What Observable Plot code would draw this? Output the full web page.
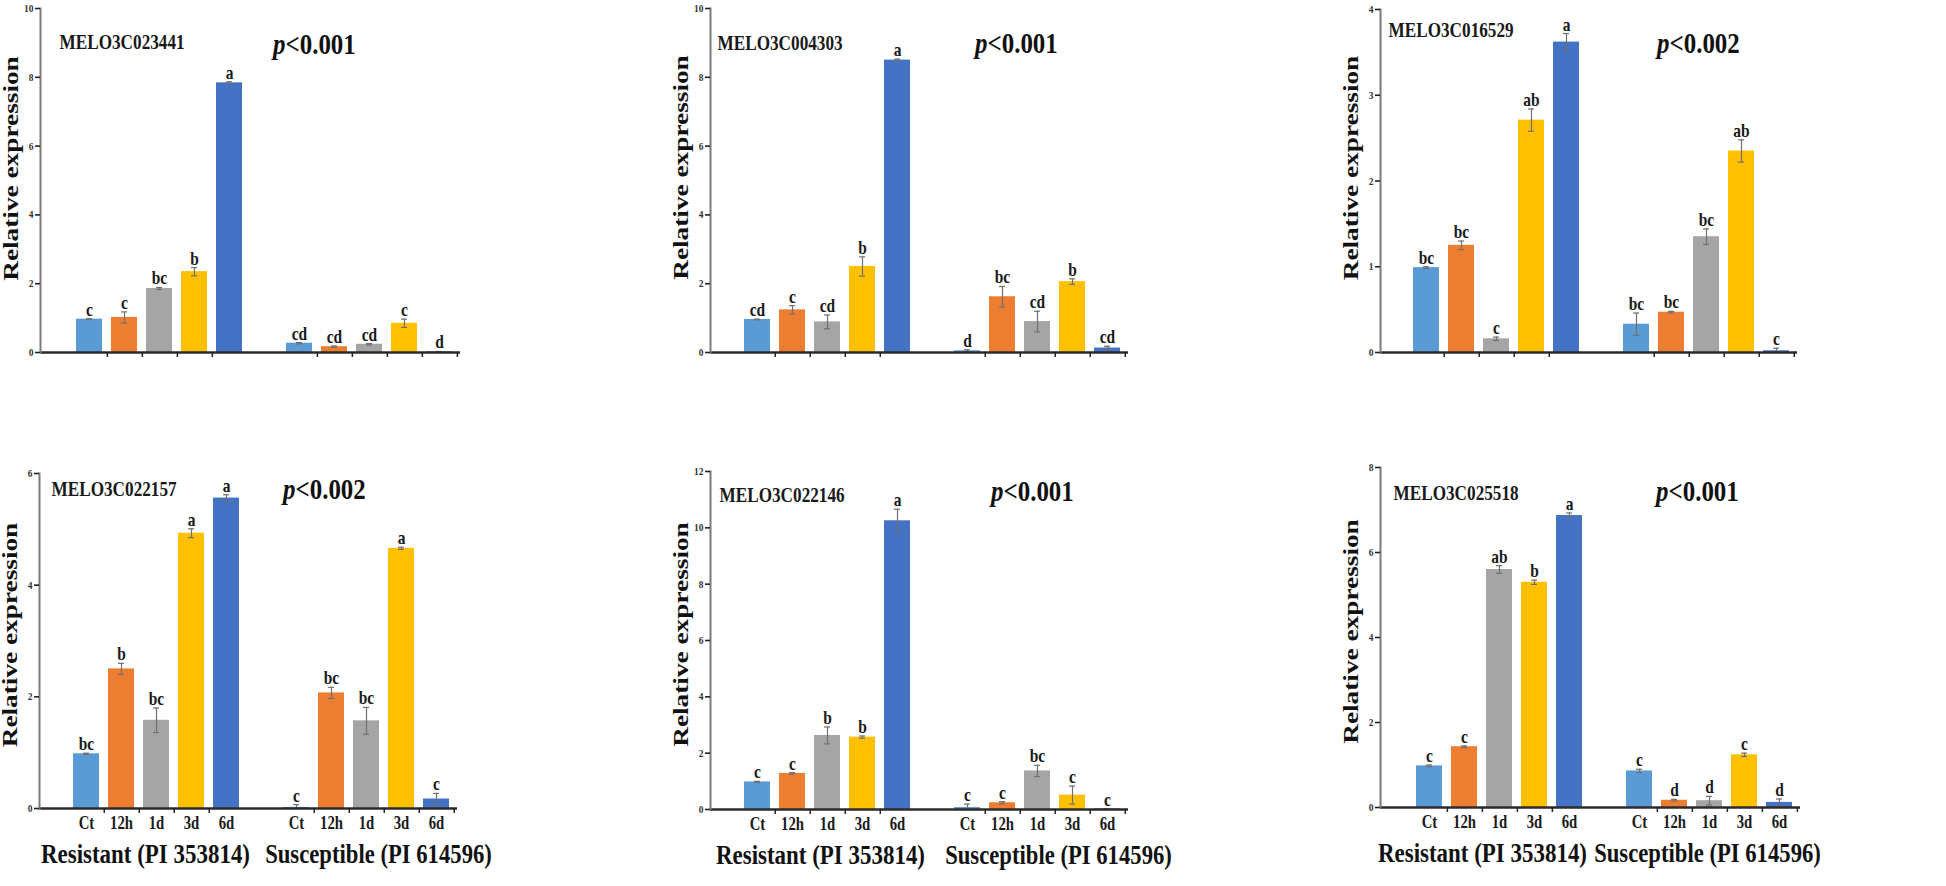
<!DOCTYPE html>
<html>
<head>
<meta charset="utf-8">
<script src="https://cdn.jsdelivr.net/npm/d3@7"></script>
<script src="https://cdn.jsdelivr.net/npm/@observablehq/plot@0.6"></script>
<style>
html, body { margin: 0; padding: 0; background: #fff; }
#root { position: relative; width: 1946px; height: 886px; overflow: hidden; background: #fff; }
.panel { position: absolute; }
</style>
</head>
<body>
<div id="root"></div>
<script>
// ---------- data ----------
const groups = ["Resistant (PI 353814)", "Susceptible (PI 614596)"];
const groupKeys = ["R", "S"];
const times = ["Ct", "12h", "1d", "3d", "6d"];
const timeColors = ["#5B9BD5", "#ED7D31", "#A5A5A5", "#FFC000", "#4472C4"];
const genes = ["MELO3C023441", "MELO3C004303", "MELO3C016529", "MELO3C022157", "MELO3C022146", "MELO3C025518"];
const pValues = ["<0.001", "<0.001", "<0.002", "<0.002", "<0.001", "<0.001"];
const yMax = [10, 10, 4, 6, 12, 8];
const yStep = [2, 2, 1, 2, 2, 2];
const yTitle = "Relative expression";

const resistantMean = [
  [0.97, 1.02, 1.86, 2.35, 7.84],
  [0.96, 1.24, 0.89, 2.50, 8.50],
  [0.99, 1.25, 0.16, 2.71, 3.62],
  [0.98, 2.50, 1.58, 4.93, 5.56],
  [0.98, 1.28, 2.63, 2.57, 10.25],
  [0.98, 1.43, 5.60, 5.30, 6.87]
];
const resistantErr = [
  [0.01, 0.16, 0.03, 0.12, 0.03],
  [0.01, 0.12, 0.20, 0.28, 0.03],
  [0.01, 0.05, 0.02, 0.13, 0.10],
  [0.01, 0.10, 0.22, 0.08, 0.06],
  [0.02, 0.03, 0.30, 0.04, 0.41],
  [0.02, 0.02, 0.09, 0.05, 0.06]
];
const resistantLetters = [
  ["c", "c", "bc", "b", "a"],
  ["cd", "c", "cd", "b", "a"],
  ["bc", "bc", "c", "ab", "a"],
  ["bc", "b", "bc", "a", "a"],
  ["c", "c", "b", "b", "a"],
  ["c", "c", "ab", "b", "a"]
];
const susceptibleMean = [
  [0.27, 0.17, 0.24, 0.85, 0.02],
  [0.05, 1.62, 0.90, 2.06, 0.13],
  [0.33, 0.47, 1.35, 2.35, 0.02],
  [0.02, 2.07, 1.57, 4.66, 0.17],
  [0.07, 0.24, 1.37, 0.51, 0.02],
  [0.86, 0.17, 0.16, 1.24, 0.12]
];
const susceptibleErr = [
  [0.02, 0.02, 0.02, 0.12, 0.01],
  [0.03, 0.30, 0.30, 0.08, 0.05],
  [0.13, 0.01, 0.09, 0.13, 0.03],
  [0.05, 0.10, 0.24, 0.02, 0.10],
  [0.12, 0.04, 0.20, 0.32, 0.01],
  [0.04, 0.02, 0.10, 0.04, 0.08]
];
const susceptibleLetters = [
  ["cd", "cd", "cd", "c", "d"],
  ["d", "bc", "cd", "b", "cd"],
  ["bc", "bc", "bc", "ab", "c"],
  ["c", "bc", "bc", "a", "c"],
  ["c", "c", "bc", "c", "c"],
  ["c", "d", "d", "c", "d"]
];

// ---------- layout (page pixels) ----------
const layout = [
  {axis: 40,   top: 0,   frameTop: 8,   base: 352, end: 460,  geneDx: 19, geneDy: 40, pX: 245, pDy: 45, titleDy: -12, gDxR: 0,   gDxS: 0},
  {axis: 710,  top: 0,   frameTop: 8,   base: 352, end: 1128, geneDx: 7,  geneDy: 41, pX: 277, pDy: 44, titleDy: -13, gDxR: 0,   gDxS: 0},
  {axis: 1380, top: 0,   frameTop: 9,   base: 352, end: 1797, geneDx: 8,  geneDy: 27, pX: 289, pDy: 43, titleDy: -13, gDxR: 0,   gDxS: 0},
  {axis: 39,   top: 440, frameTop: 473, base: 808, end: 457,  geneDx: 12, geneDy: 22, pX: 256, pDy: 25, titleDy: -6,  gDxR: -11, gDxS: 12},
  {axis: 710,  top: 440, frameTop: 471, base: 809, end: 1128, geneDx: 9,  geneDy: 30, pX: 293, pDy: 29, titleDy: -6,  gDxR: -7,  gDxS: 21},
  {axis: 1380, top: 440, frameTop: 467, base: 807, end: 1800, geneDx: 13, geneDy: 32, pX: 288, pDy: 33, titleDy: -6,  gDxR: -17, gDxS: -2}
];

const FONT = "'Liberation Serif', 'Times New Roman', Times, serif";
const root = document.getElementById("root");

// horizontally condense (or stretch) the texts of a mark group, about each text's anchor
function scaleTexts(g, sx) {
  if (!g) return;
  g.querySelectorAll("text").forEach(t => {
    const tr = t.getAttribute("transform") || "";
    t.setAttribute("transform", tr + ` scale(${sx},1)`);
  });
}

function makePanel(i) {
  const L = layout[i];
  const bottomRow = L.top > 0;
  const ML = 50, MR = 48;
  const W = L.end - L.axis;
  const width = ML + W + MR;
  const height = bottomRow ? 446 : 380;
  const marginTop = L.frameTop - L.top;
  const marginBottom = height - (L.base - L.top);

  const rows = [];
  groupKeys.forEach((g, gi) => times.forEach((t, ti) => {
    const mean = gi === 0 ? resistantMean[i][ti] : susceptibleMean[i][ti];
    const err = gi === 0 ? resistantErr[i][ti] : susceptibleErr[i][ti];
    const letter = gi === 0 ? resistantLetters[i][ti] : susceptibleLetters[i][ti];
    rows.push({key: g + "|" + t, group: groups[gi], time: t, mean, err, letter});
  }));

  const slots = [...times.map(t => "R|" + t), "gap", ...times.map(t => "S|" + t)];
  const pi = 0.245, po = 0.5, align = 0.82;
  const step = W / (slots.length - pi + 2 * po);
  const tickKeys = [...times.slice(0, 4).map(t => "R|" + t), ...times.map(t => "S|" + t)];
  const barKeys = slots.filter(k => k !== "gap");
  const yTicks = d3.range(0, yMax[i] + yStep[i] / 2, yStep[i]);

  // text marks, in this order: letters, y title, gene, p, p-value, [group R, group S]
  const marks = [
    Plot.barY(rows, {x: "key", y: "mean", fill: "time"}),
    Plot.ruleX(rows, {x: "key", y1: d => Math.max(0, d.mean - d.err), y2: d => d.mean + d.err, stroke: "#707070", strokeWidth: 1.2}),
    Plot.tickY(rows, {x: "key", y: d => d.mean + d.err, stroke: "#707070", strokeWidth: 1.2, insetLeft: 10, insetRight: 10}),
    Plot.tickY(rows, {x: "key", y: d => Math.max(0, d.mean - d.err), stroke: "#707070", strokeWidth: 1.2, insetLeft: 10, insetRight: 10}),
    Plot.ruleY([0], {stroke: "#2b2b2b", strokeWidth: 2.4}),
    Plot.frame({anchor: "left", stroke: "#7a7a7a", strokeWidth: 2}),
    Plot.axisY({ticks: yTicks, tickSize: 5, tickPadding: 2, tickFormat: d3.format("d"), fontSize: 11, label: null, stroke: "#222", strokeWidth: 1.6, fill: "#333"}),
    Plot.axisX(tickKeys, {tickSize: 5, tickPadding: 0, dx: step / 2, tickFormat: () => "", label: null, stroke: "#222", strokeWidth: 1.5}),
    Plot.text(rows, {x: "key", y: d => d.mean + d.err, text: "letter", dy: -3, lineAnchor: "bottom", fontSize: 18, fill: "#1a1a1a"}),
    Plot.text([yTitle], {text: d => d, frameAnchor: "left", textAnchor: "middle", lineAnchor: "middle", rotate: -90, dx: -29, dy: L.titleDy, fontSize: 21, fill: "#111"}),
    Plot.text([genes[i]], {text: d => d, frameAnchor: "top-left", textAnchor: "start", lineAnchor: "bottom", dx: L.geneDx, dy: L.geneDy, fontSize: 20, fill: "#1a1a1a"}),
    Plot.text(["p"], {text: d => d, frameAnchor: "top-left", textAnchor: "end", lineAnchor: "bottom", dx: L.pX, dy: L.pDy, fontSize: 29, fontStyle: "italic", fill: "#111"}),
    Plot.text([pValues[i]], {text: d => d, frameAnchor: "top-left", textAnchor: "start", lineAnchor: "bottom", dx: L.pX, dy: L.pDy, fontSize: 29, fill: "#111"})
  ];
  if (bottomRow) {
    marks.push(
      Plot.axisX(barKeys, {tickSize: 0, tickPadding: 8, tickFormat: k => k.split("|")[1], fontSize: 18, label: null, fill: "#1a1a1a"}),
      Plot.text([groups[0]], {text: d => d, x: () => "R|1d", y: () => 0, dx: L.gDxR, dy: 54, lineAnchor: "bottom", fontSize: 27, fill: "#111"}),
      Plot.text([groups[1]], {text: d => d, x: () => "S|1d", y: () => 0, dx: L.gDxS, dy: 54, lineAnchor: "bottom", fontSize: 27, fill: "#111"})
    );
  }

  const chart = Plot.plot({
    width, height, marginLeft: ML, marginRight: MR, marginTop, marginBottom,
    style: {fontFamily: FONT, fontWeight: "bold", background: "transparent", overflow: "visible", color: "#222"},
    x: {type: "band", domain: slots, paddingInner: pi, paddingOuter: po, align, axis: null},
    y: {domain: [0, yMax[i]], axis: null},
    color: {domain: times, range: timeColors},
    marks
  });

  const div = document.createElement("div");
  div.className = "panel";
  div.style.left = (L.axis - ML) + "px";
  div.style.top = L.top + "px";
  div.style.width = width + "px";
  div.style.height = height + "px";
  div.appendChild(chart);
  root.appendChild(div);

  const svg = div.querySelector("svg");
  const textGroups = [...svg.querySelectorAll(':scope > g[aria-label="text"]')];
  const factors = [0.86, 1.3, 0.86, 0.86, 0.86, 0.85, 0.84];
  textGroups.forEach((g, k) => scaleTexts(g, factors[k] ?? 1));
  svg.querySelectorAll(':scope > g[aria-label="x-axis tick label"]').forEach(g => scaleTexts(g, 0.82));
  svg.querySelectorAll(':scope > g[aria-label="y-axis tick label"]').forEach(g => scaleTexts(g, 0.86));
}

for (let i = 0; i < 6; i++) makePanel(i);
</script>
</body>
</html>
